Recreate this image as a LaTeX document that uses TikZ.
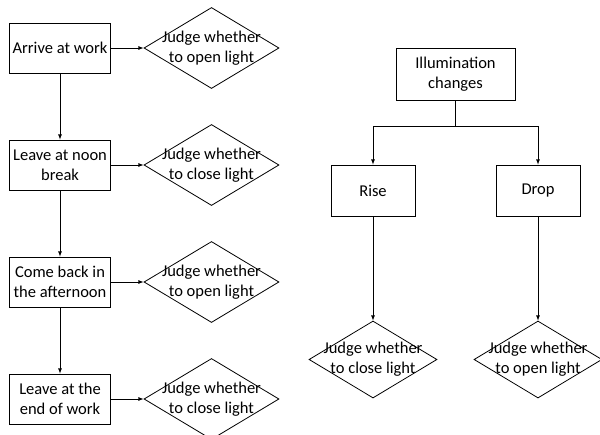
\documentclass[tikz,border=0pt]{standalone}
\usepackage{fontspec}
\setmainfont{Carlito}
\usetikzlibrary{arrows,shapes.geometric}
\usetikzlibrary{positioning}

\tikzset{
  event/.style={rectangle,draw=black,align=center,inner sep=2pt,minimum width=101pt,minimum height=50pt},
  judge/.style={diamond,draw=black,inner sep=0pt,minimum width=135pt,minimum height=81pt},
  flow/.style={->,>=latex}
}

\begin{document}
\begin{tikzpicture}[node distance=117pt,font=\fontsize{16.5pt}{20pt}\selectfont,line width=0.8pt]
\useasboundingbox (0,0) rectangle (600pt,-434pt);
% left: daily schedule
\node[event](arrive) at (60pt,-48pt){Arrive at work};
\node[event,below of=arrive](noon){Leave at noon\\break};
\node[event,below of=noon](back){Come back in\\the afternoon};
\node[event,below of=back](leave){Leave at the\\end of work};
\node[judge,right of=arrive,node distance=151.5pt,label={[align=center]center:Judge whether\\to open light}](j1){};
\node[judge,right of=noon,node distance=151.5pt,label={[align=center]center:Judge whether\\to close light}](j2){};
\node[judge,right of=back,node distance=151.5pt,label={[align=center]center:Judge whether\\to open light}](j3){};
\node[judge,right of=leave,node distance=151.5pt,label={[align=center]center:Judge whether\\to close light}](j4){};
\draw[flow] (arrive) -- (noon);
\draw[flow] (noon) -- (back);
\draw[flow] (back) -- (leave);
\draw[flow] (arrive) -- (j1);
\draw[flow] (noon) -- (j2);
\draw[flow] (back) -- (j3);
\draw[flow] (leave) -- (j4);
% right: illumination
\node[event,minimum width=119pt,minimum height=52pt](illum) at (455.5pt,-74pt){Illumination\\changes};
\node[event,minimum width=84pt,minimum height=51pt](rise) at (373pt,-190.5pt){Rise};
\node[event,minimum width=84pt,minimum height=51pt,right of=rise,node distance=165pt](drop){Drop};
\node[judge,minimum width=128pt,minimum height=77pt,below of=rise,node distance=169pt,label={[align=center]center:Judge whether\\to close light}](j5){};
\node[judge,minimum width=128pt,minimum height=77pt,below of=drop,node distance=169pt,label={[align=center]center:Judge whether\\to open light}](j6){};
\coordinate[below of=illum,node distance=52pt](fork);
\draw (illum) -- (fork);
\draw[flow] (fork) -| (rise);
\draw[flow] (fork) -| (drop);
\draw[flow] (rise) -- (j5);
\draw[flow] (drop) -- (j6);
\end{tikzpicture}
\end{document}
